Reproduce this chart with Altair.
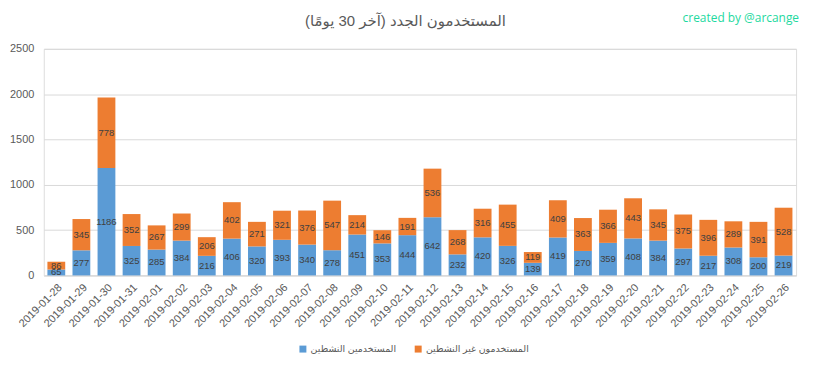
import altair as alt
import pandas as pd

dates = ["2019-01-28", "2019-01-29", "2019-01-30", "2019-01-31", "2019-02-01", "2019-02-02",
         "2019-02-03", "2019-02-04", "2019-02-05", "2019-02-06", "2019-02-07", "2019-02-08",
         "2019-02-09", "2019-02-10", "2019-02-11", "2019-02-12", "2019-02-13", "2019-02-14",
         "2019-02-15", "2019-02-16", "2019-02-17", "2019-02-18", "2019-02-19", "2019-02-20",
         "2019-02-21", "2019-02-22", "2019-02-23", "2019-02-24", "2019-02-25", "2019-02-26"]
active = [65, 277, 1186, 325, 285, 384, 216, 406, 320, 393, 340, 278, 451, 353, 444, 642,
          232, 420, 326, 139, 419, 270, 359, 408, 384, 297, 217, 308, 200, 219]
inactive = [86, 345, 778, 352, 267, 299, 206, 402, 271, 321, 376, 547, 214, 146, 191, 536,
            268, 316, 455, 119, 409, 363, 366, 443, 345, 375, 396, 289, 391, 528]
series_names = ["المستخدمين النشطين", "المستخدمون غير النشطين"]
colors = ["#5B9BD5", "#ED7D31"]
y_ticks = [0, 500, 1000, 1500, 2000, 2500]
title_text = ["المستخدمون الجدد (آخر 30 يومًا)"]
credit = ["created by @arcange"]

rows = []
for d, a, i in zip(dates, active, inactive):
    rows.append({"date": d, "series": series_names[0], "value": a, "ord": 0})
    rows.append({"date": d, "series": series_names[1], "value": i, "ord": 1})
df = pd.DataFrame(rows)

FONT = "Liberation Sans, DejaVu Sans"
GREY = "#595959"

base = alt.Chart(df).transform_stack(
    stack="value", groupby=["date"], as_=["y0", "y1"],
    sort=[alt.SortField("ord", order="ascending")]
).transform_calculate(mid="(datum.y0 + datum.y1) / 2")

xenc = alt.X("date:N", sort=dates,
             scale=alt.Scale(paddingInner=0.29, paddingOuter=0.145),
             axis=alt.Axis(title=None, labelAngle=-45, labelFontSize=11, labelColor=GREY,
                           labelFont=FONT, ticks=False, domainColor="#d9d9d9",
                           labelPadding=6, grid=False))

bars = base.mark_bar().encode(
    x=xenc,
    y=alt.Y("y0:Q", scale=alt.Scale(domain=[0, 2500], nice=False),
            axis=alt.Axis(title=None, values=y_ticks, domain=False, ticks=False, format="d",
                          gridColor="#d9d9d9", labelFontSize=11, labelColor=GREY,
                          labelFont=FONT, labelPadding=10)),
    y2="y1:Q",
    color=alt.Color("series:N", scale=alt.Scale(domain=series_names, range=colors),
                    legend=alt.Legend(title=None, orient="none", direction="horizontal",
                                      legendX=256, legendY=297,
                                      symbolType="square", symbolSize=49, symbolStrokeWidth=0,
                                      labelFontSize=9.5, labelColor=GREY, labelFont=FONT,
                                      columnPadding=17, labelOffset=3)),
    order=alt.Order("ord:Q"),
)

labels = base.mark_text(fontSize=9.5, color="#404040", font=FONT).encode(
    x=alt.X("date:N", sort=dates),
    y=alt.Y("mid:Q"),
    text=alt.Text("value:Q"),
)

title_mark = alt.Chart(pd.DataFrame({"t": title_text})).mark_text(
    align="center", baseline="middle", fontSize=15, color=GREY, font=FONT
).encode(x=alt.value(364), y=alt.value(-28), text="t:N")

credit_text = alt.Chart(pd.DataFrame({"t": credit})).mark_text(
    align="right", baseline="middle", fontSize=12, color="#1ED9A0", font="Open Sans"
).encode(x=alt.value(760), y=alt.value(-31), text="t:N")

chart = alt.layer(bars, labels, title_mark, credit_text).properties(
    width=757, height=228,
    autosize=alt.AutoSizeParams(type="none"),
    padding={"left": 36, "top": 40, "right": 12, "bottom": 80},
).configure_view(stroke=None).configure(background="white")

chart.save("out.html", embed_options={"renderer": "svg", "actions": False})
